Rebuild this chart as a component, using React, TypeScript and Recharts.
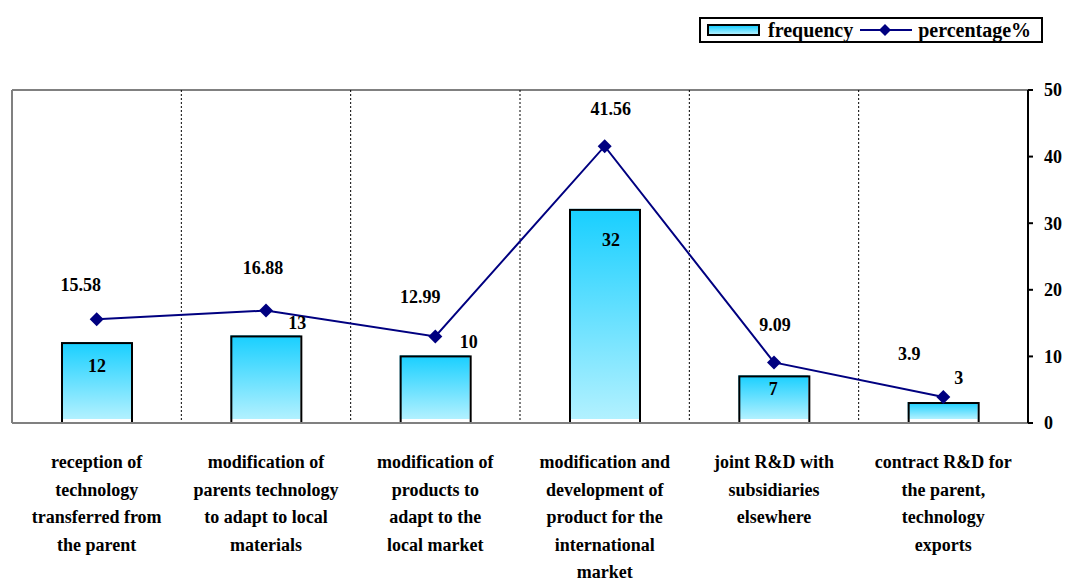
import React from "react";
import { ComposedChart, Bar, Line, XAxis, YAxis, CartesianGrid, LabelList } from "recharts";

const categories = [
  ["reception of", "technology", "transferred from", "the parent"],
  ["modification of", "parents technology", "to adapt to local", "materials"],
  ["modification of", "products to", "adapt to the", "local market"],
  ["modification and", "development of", "product for the", "international", "market"],
  ["joint R&D with", "subsidiaries", "elsewhere"],
  ["contract R&D for", "the parent,", "technology", "exports"],
];
const frequency = [12, 13, 10, 32, 7, 3];
const percentage = [15.58, 16.88, 12.99, 41.56, 9.09, 3.9];
const yTicks = [0, 10, 20, 30, 40, 50];

// label nudges copied from the Excel-style placement
const barLabelShift = [[0, 23], [31, -14], [33, -15], [6, 30], [-1, 12], [15, -25]];
const pctLabelShift = [[-16, -35], [-3, -43], [-15, -40], [6, -38], [1, -38], [-34, -43]];

const data = categories.map((lines, i) => ({
  name: lines.join(" "),
  frequency: frequency[i],
  percentage: percentage[i],
}));

const FONT = "'Liberation Serif', 'Times New Roman', serif";
const FS = 18;
const NAVY = "#000080";

function CategoryTick(props: any) {
  const { x, y, index } = props;
  const lines = categories[index] || [];
  return (
    <text x={x} y={y + 37} textAnchor="middle" fontFamily={FONT} fontWeight="bold" fontSize={FS} fill="#000">
      {lines.map((l, j) => (
        <tspan key={j} x={x} dy={j === 0 ? 0 : 27.5}>
          {l}
        </tspan>
      ))}
    </text>
  );
}

function Diamond(props: any) {
  const { cx, cy } = props;
  if (cx == null || cy == null) return null;
  const r = 7;
  return <path d={`M${cx},${cy - r}L${cx + r},${cy}L${cx},${cy + r}L${cx - r},${cy}Z`} fill={NAVY} />;
}

// gradient fill sits a pixel up-left of its black outline, like the source
function FreqBar(props: any) {
  const { x, y, width, height } = props;
  if (!height) return null;
  return (
    <g>
      <rect x={x - 1} y={y - 1} width={width} height={height - 3} fill="url(#barGrad)" />
      <rect x={x} y={y} width={width} height={height} fill="none" stroke="#000" strokeWidth={2} />
    </g>
  );
}

function BarValueLabel(props: any) {
  const { x, y, width, value, index } = props;
  const [dx, dy] = barLabelShift[index] || [0, 0];
  return (
    <text x={x + width / 2 + dx} y={y + dy} dy="0.35em" textAnchor="middle" fontFamily={FONT} fontWeight="bold" fontSize={FS} fill="#000">
      {value}
    </text>
  );
}

function PctLabel(props: any) {
  const { x, y, value, index } = props;
  const [dx, dy] = pctLabelShift[index] || [0, 0];
  return (
    <text x={x + dx} y={y + dy} dy="0.35em" textAnchor="middle" fontFamily={FONT} fontWeight="bold" fontSize={FS} fill="#000">
      {value}
    </text>
  );
}

function LegendBox() {
  return (
    <div
      style={{
        position: "absolute",
        left: 699,
        top: 17,
        width: 340,
        height: 22,
        border: "2px solid #000",
        display: "flex",
        alignItems: "center",
        fontFamily: FONT,
        fontWeight: "bold",
        fontSize: 20,
        background: "#fff",
        whiteSpace: "nowrap",
      }}
    >
      <div
        style={{
          marginLeft: 6,
          width: 49,
          height: 8,
          border: "2px solid #000",
          background: "linear-gradient(#1ccfff, #b0f0ff)",
          flex: "none",
        }}
      />
      <span style={{ marginLeft: 8 }}>frequency</span>
      <svg width={54} height={20} style={{ marginLeft: 6, flex: "none" }}>
        <line x1={1} y1={10} x2={53} y2={10} stroke={NAVY} strokeWidth={2} />
        <path d="M26,4L32,10L26,16L20,10Z" fill={NAVY} />
      </svg>
      <span style={{ marginLeft: 5 }}>percentage%</span>
    </div>
  );
}

export default function App() {
  return (
    <div style={{ position: "absolute", left: 0, top: 0, width: 1070, height: 582, background: "#fff" }}>
      <ComposedChart width={1070} height={582} data={data} margin={{ top: 90, right: 0, left: 12, bottom: 9 }}>
        <defs>
          <linearGradient id="barGrad" x1="0" y1="0" x2="0" y2="1">
            <stop offset="0%" stopColor="#18cfff" />
            <stop offset="100%" stopColor="#b2f1ff" />
          </linearGradient>
        </defs>
        <CartesianGrid
          stroke="#808080"
          strokeWidth={2}
          horizontalCoordinatesGenerator={({ offset }: any) => [offset.top]}
          verticalCoordinatesGenerator={({ offset }: any) => [offset.left]}
        />
        <CartesianGrid
          stroke="#000"
          strokeDasharray="2 2"
          horizontal={false}
          verticalCoordinatesGenerator={({ offset }: any) =>
            [1, 2, 3, 4, 5].map((i) => offset.left + (offset.width * i) / 6)
          }
        />
        <XAxis
          dataKey="name"
          height={150}
          axisLine={{ stroke: "#808080", strokeWidth: 2 }}
          tickLine={false}
          interval={0}
          tick={<CategoryTick />}
        />
        <YAxis
          orientation="right"
          width={42}
          domain={[0, 50]}
          ticks={yTicks}
          interval={0}
          axisLine={{ stroke: "#000", strokeWidth: 2 }}
          tickLine={{ stroke: "#000", strokeWidth: 2 }}
          tickSize={5}
          tickMargin={11}
          tick={{ fontFamily: FONT, fontWeight: "bold", fontSize: FS, fill: "#000" }}
        />
        <Bar dataKey="frequency" barSize={70} fill="url(#barGrad)" shape={<FreqBar />} isAnimationActive={false}>
          <LabelList dataKey="frequency" content={<BarValueLabel />} />
        </Bar>
        <Line
          dataKey="percentage"
          stroke={NAVY}
          strokeWidth={2}
          dot={<Diamond />}
          activeDot={false}
          isAnimationActive={false}
        >
          <LabelList dataKey="percentage" content={<PctLabel />} />
        </Line>
      </ComposedChart>
      <LegendBox />
    </div>
  );
}
